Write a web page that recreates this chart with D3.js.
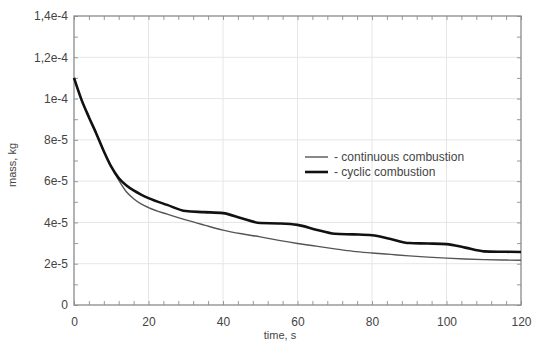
<!DOCTYPE html>
<html><head><meta charset="utf-8">
<script src="https://cdn.jsdelivr.net/npm/d3@7"></script>
<style>body{margin:0;background:#fff}svg{display:block}text{font-family:"Liberation Sans",Arial,sans-serif}</style>
</head><body>
<svg id="c" width="533" height="343"></svg>
<script>
const time = [0,2,4,6,8,10,12,14,16,18,20,25,30,35,40,45,50,55,60,65,70,75,80,85,90,95,100,105,110,115,120];
const continuous = [11.0,9.95,9.1,8.3,7.45,6.7,6.05,5.5,5.15,4.9,4.72,4.4,4.12,3.87,3.63,3.45,3.3,3.13,2.98,2.85,2.72,2.6,2.52,2.45,2.38,2.32,2.27,2.23,2.2,2.18,2.17];
const cyclic = [11.0,9.95,9.1,8.3,7.45,6.7,6.15,5.8,5.55,5.35,5.18,4.85,4.55,4.5,4.45,4.2,3.97,3.95,3.88,3.65,3.45,3.42,3.38,3.2,3.0,2.98,2.95,2.78,2.6,2.58,2.57];
const valueScale = 1e-5;
const xTicks = [0,20,40,60,80,100,120];
const yTicks = [0,2e-5,4e-5,6e-5,8e-5,1e-4,1.2e-4,1.4e-4];
const yTickLabels = ["0","2e-5","4e-5","6e-5","8e-5","1e-4","1,2e-4","1,4e-4"];
const seriesNames = ["- continuous combustion","- cyclic combustion"];
const xTitle = "time, s", yTitle = "mass, kg";

const svg = d3.select("#c");
const L=74,R=521,T=16,B=305;
const x = d3.scaleLinear().domain([0,120]).range([L,R]);
const y = d3.scaleLinear().domain([0,1.4e-4]).range([B,T]);
const tc = "#444";

// grid
svg.append("g").selectAll("line").data(xTicks.slice(1,-1)).join("line")
  .attr("x1",d=>x(d)).attr("x2",d=>x(d)).attr("y1",T).attr("y2",B)
  .attr("stroke","#e6e6e6").attr("stroke-width",1);
svg.append("g").selectAll("line").data(yTicks.slice(1,-1)).join("line")
  .attr("y1",d=>y(d)).attr("y2",d=>y(d)).attr("x1",L).attr("x2",R)
  .attr("stroke","#e6e6e6").attr("stroke-width",1);

// minor ticks (inward)
const xMinor = d3.range(0,121,4), yMinor = d3.range(0,1.41e-4,1e-5);
function noText(g){g.selectAll("text").remove();g.select(".domain").remove();g.selectAll("line").attr("stroke","#999");}
svg.append("g").attr("transform",`translate(0,${B})`).call(d3.axisBottom(x).tickValues(xMinor).tickSize(-4)).call(noText);
svg.append("g").attr("transform",`translate(0,${T})`).call(d3.axisTop(x).tickValues(xMinor).tickSize(-4)).call(noText);
svg.append("g").attr("transform",`translate(${L},0)`).call(d3.axisLeft(y).tickValues(yMinor).tickSize(-4)).call(noText);
svg.append("g").attr("transform",`translate(${R},0)`).call(d3.axisRight(y).tickValues(yMinor).tickSize(-4)).call(noText);

// frame
svg.append("rect").attr("x",L).attr("y",T).attr("width",R-L).attr("height",B-T)
  .attr("fill","none").attr("stroke","#8a8a8a").attr("stroke-width",1.3);

// tick labels
const xa = svg.append("g").attr("transform",`translate(0,${B})`)
  .call(d3.axisBottom(x).tickValues(xTicks).tickSize(0).tickPadding(12));
xa.select(".domain").remove();
xa.selectAll("text").attr("font-size",12).attr("fill",tc).attr("font-family","Liberation Sans, Arial, sans-serif");
const ya = svg.append("g").attr("transform",`translate(${L},0)`)
  .call(d3.axisLeft(y).tickValues(yTicks).tickSize(0).tickPadding(6).tickFormat((d,i)=>yTickLabels[i]));
ya.select(".domain").remove();
ya.selectAll("text").attr("font-size",12).attr("fill",tc).attr("font-family","Liberation Sans, Arial, sans-serif");

// titles
svg.append("text").attr("x",280).attr("y",339).attr("text-anchor","middle")
  .attr("font-size",11).attr("fill",tc).text(xTitle);
svg.append("text").attr("transform","translate(16,165) rotate(-90)").attr("text-anchor","middle")
  .attr("font-size",11).attr("fill",tc).text(yTitle);

// lines
const line = d3.line().x((d,i)=>x(time[i])).y(d=>y(d*valueScale)).curve(d3.curveMonotoneX);
svg.append("path").datum(continuous).attr("d",line).attr("fill","none").attr("stroke","#555").attr("stroke-width",1.4);
svg.append("path").datum(cyclic).attr("d",line).attr("fill","none").attr("stroke","#111").attr("stroke-width",2.6);

// legend
const lg = svg.append("g");
const styles = [{c:"#555",w:1.4},{c:"#111",w:2.6}];
seriesNames.forEach((n,i)=>{
  const yy = 157 + i*15;
  lg.append("line").attr("x1",305).attr("x2",328).attr("y1",yy).attr("y2",yy)
    .attr("stroke",styles[i].c).attr("stroke-width",styles[i].w);
  lg.append("text").attr("x",334).attr("y",yy+4).attr("font-size",12).attr("fill",tc).text(n);
});
</script>
</body></html>
